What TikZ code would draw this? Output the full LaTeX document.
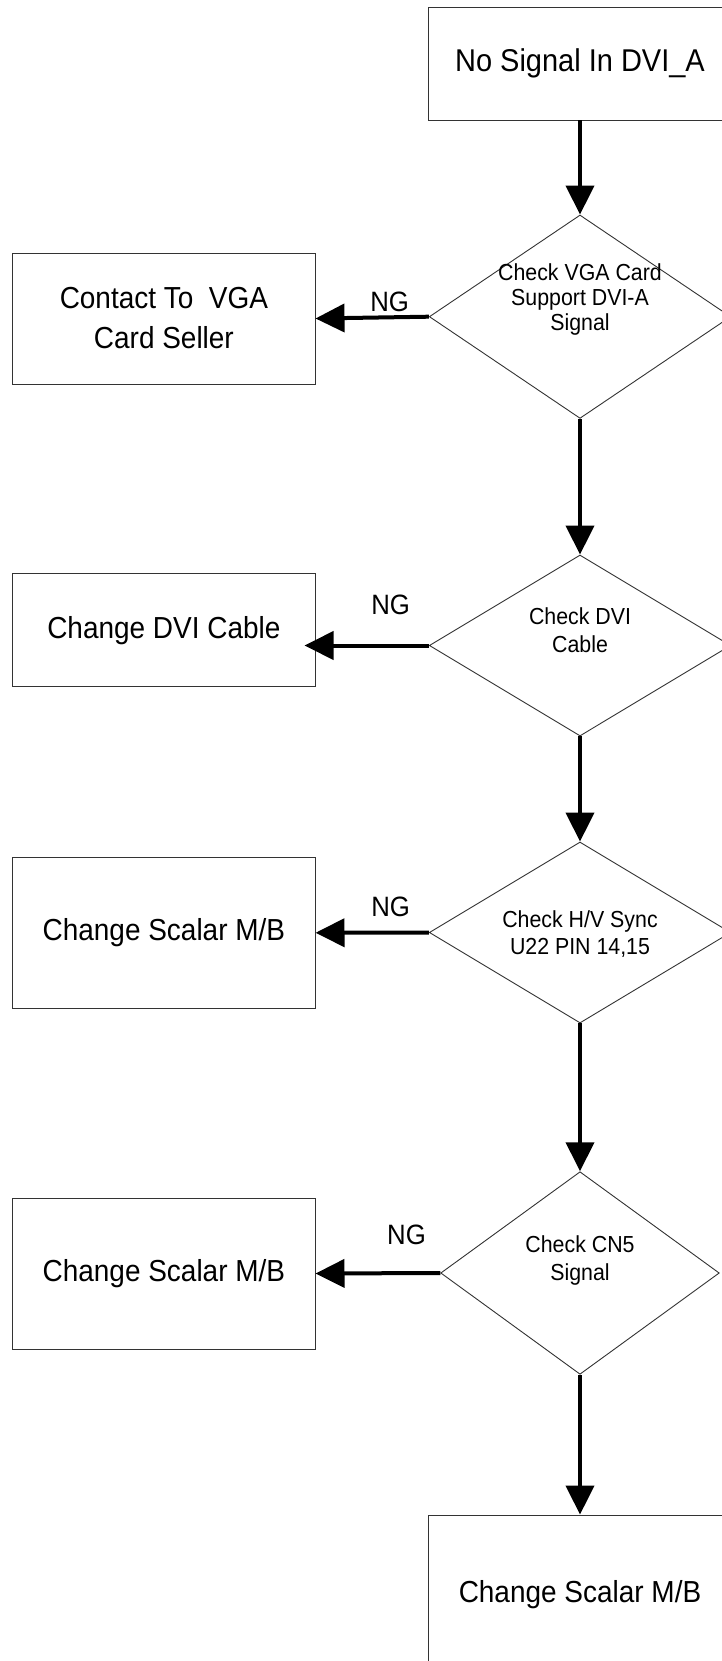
\documentclass[tikz,border=0pt]{standalone}
\usepackage{fontspec}
\setmainfont{Liberation Sans}[FakeStretch=0.92]
\usetikzlibrary{arrows.meta,shapes.geometric}
\begin{document}
\begin{tikzpicture}[x=1pt,y=-1pt,
  box/.style={draw=black!80, line width=0.9pt, rectangle, inner sep=0pt,
    minimum width=302.3pt, font=\fontsize{30.4}{40}\selectfont, align=center},
  dia/.style={draw=black!80, line width=0.9pt, diamond, inner sep=0pt},
  dtext/.style={inner sep=0pt, align=center, font=\fontsize{23.2}{27.5}\selectfont},
  nglabel/.style={inner sep=0pt, font=\fontsize{28}{30}\selectfont},
  flow/.style={line width=4pt, -{Triangle[width=28pt,length=29pt]}}
]
\useasboundingbox (0,0) rectangle (722,1661);
\clip (0,0) rectangle (722,1661);

% main column
\node[box, minimum width=304pt, minimum height=113pt, font=\fontsize{31.5}{40}\selectfont] (start) at (580,63.5) {No Signal In DVI\_A};
\node[dia, minimum width=301.4pt, minimum height=203.4pt] (d1) at (580,316.7) {};
\node[dtext, font=\fontsize{23.2}{25}\selectfont] (d1t) at (580,300) {Check VGA Card\\Support DVI-A\\Signal};
\node[dia, minimum width=301.4pt, minimum height=181pt] (d2) at (580,645.5) {};
\node[dtext] (d2t) at (580,630.3) {Check DVI\\Cable};
\node[dia, minimum width=301.4pt, minimum height=181pt] (d3) at (580,932.5) {};
\node[dtext] (d3t) at (580,934.2) {Check H/V Sync\\U22 PIN 14,15};
\node[dia, minimum width=278.6pt, minimum height=202.6pt] (d4) at (580,1273) {};
\node[dtext] (d4t) at (580,1260.7) {Check CN5\\Signal};
\node[box, minimum width=304pt, minimum height=160pt] (final) at (580,1595) {Change Scalar M/B};

% left column
\node[box, minimum height=131pt] (b1) at (163.9,318.5) {Contact To\ \ VGA\\Card Seller};
\node[box, minimum height=112.7pt] (b2) at (163.9,630.2) {Change DVI Cable};
\node[box, minimum height=151pt] (b3) at (163.9,932.8) {Change Scalar M/B};
\node[box, minimum height=151pt] (b4) at (163.9,1273.5) {Change Scalar M/B};

% NG labels
\node[nglabel] (ng1) at (389.6,302) {NG};
\node[nglabel] (ng2) at (390.7,604.5) {NG};
\node[nglabel] (ng3) at (390.7,906.5) {NG};
\node[nglabel] (ng4) at (406.5,1234.5) {NG};

% connectors
\draw[flow] (start.south) -- (d1.north);
\draw[flow] (d1.south) -- (d2.north);
\draw[flow] (d2.south) -- (d3.north);
\draw[flow] (d3.south) -- (d4.north);
\draw[flow] (d4.south) -- (final.north);

\draw[flow] (d1.west) -- (b1.east);
\draw[flow, shorten >=-11pt] (d2.west) -- (d2.west -| b2.east);
\draw[flow] (d3.west) -- (b3.east);
\draw[flow] (d4.west) -- (b4.east);
\end{tikzpicture}
\end{document}
